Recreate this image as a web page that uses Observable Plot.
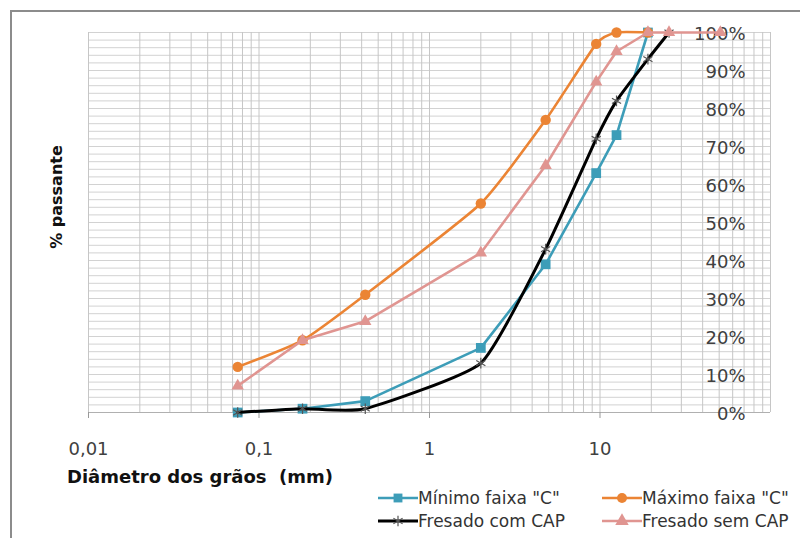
<!DOCTYPE html>
<html><head><meta charset="utf-8">
<script src="https://cdn.jsdelivr.net/npm/d3@7"></script>
<script src="https://cdn.jsdelivr.net/npm/@observablehq/plot@0.6"></script>
<style>
body{margin:0;background:#fff;}
#wrap{position:relative;width:800px;height:538px;overflow:hidden;font-family:"DejaVu Sans",sans-serif;background:#fff;}
#frame{position:absolute;left:10px;top:10px;width:800px;height:540px;border-top:2px solid #8c8c8c;border-left:2px solid #8c8c8c;box-sizing:border-box;}
#chart{position:absolute;left:0;top:0;}
.ytitle{position:absolute;left:57px;top:197px;transform:translate(-50%,-50%) rotate(-90deg);font-weight:bold;font-size:16px;line-height:1;white-space:nowrap;color:#111;}
.xtitle{position:absolute;left:67px;top:468px;font-weight:bold;font-size:18px;line-height:1;white-space:pre;color:#111;}
.leg{position:absolute;font-size:17px;line-height:1;white-space:nowrap;color:#333;}
.legsw{position:absolute;}
</style>
</head><body>
<div id="wrap">
  <div id="frame"></div>
  <div id="chart"></div>
  <div class="ytitle">% passante</div>
  <div class="xtitle">Diâmetro dos grãos  (mm)</div>
  <div id="legend"></div>
</div>
<script>
// ---- data ----
const sieves = [0.075, 0.18, 0.42, 2.0, 4.8, 9.5, 12.5, 19.1, 25.4, 50.8];
const minimoC = [0, 1, 3, 17, 39, 63, 73, 100];
const maximoC = [12, 19, 31, 55, 77, 97, 100, 100];
const comCAP  = [0, 1, 1, 13, 43, 72, 82, 93, 100];
const semCAP  = [7, 19, 24, 42, 65, 87, 95, 100, 100, 100];
const seriesNames = ['Mínimo faixa "C"', 'Máximo faixa "C"', 'Fresado com CAP', 'Fresado sem CAP'];
const seriesColors = ["#3d9db8", "#eb8434", "#000000", "#e09591"];
const xTicks = [0.01, 0.1, 1, 10];
const xTickLabels = ["0,01", "0,1", "1", "10"];
const yTicks = [0, 10, 20, 30, 40, 50, 60, 70, 80, 90, 100];
const yTickLabels = ["0%", "10%", "20%", "30%", "40%", "50%", "60%", "70%", "80%", "90%", "100%"];

const toRows = vals => vals.map((v, i) => ({d: sieves[i], p: v}));
const minRows = toRows(minimoC), maxRows = toRows(maximoC), comRows = toRows(comCAP), semRows = toRows(semCAP);

const xGrid = xTicks.flatMap(t => d3.range(1, 10).map(k => k * t)).concat([100]);
const yGrid = d3.range(0, 101, 2);
const xLabelOf = d => xTickLabels[xTicks.indexOf(d)] ?? "";

const chart = Plot.plot({
  width: 800, height: 538,
  marginLeft: 88, marginRight: 30, marginTop: 32, marginBottom: 126,
  style: {fontFamily: "DejaVu Sans, sans-serif", background: "transparent", overflow: "visible"},
  x: {type: "log", domain: [0.01, 100]},
  y: {domain: [0, 100]},
  marks: [
    Plot.ruleY(yGrid, {stroke: "#d2d2d2", strokeWidth: 1}),
    Plot.ruleX(xGrid, {stroke: "#c6c6c6", strokeWidth: 1}),
    Plot.ruleY([0], {stroke: "#b0b0b0", strokeWidth: 1}),
    Plot.axisX(xTicks, {tickSize: 6, tickPadding: 24, stroke: "#999", fontSize: 18, fill: "#404040",
      tickFormat: xLabelOf, label: null}),
    Plot.axisY(yTicks, {anchor: "right", tickSize: 0, textAnchor: "end", dx: -34, dy: 2, fontSize: 18, fill: "#404040",
      tickFormat: d => yTickLabels[yTicks.indexOf(d)], label: null}),
    // Mínimo
    Plot.line(minRows, {x: "d", y: "p", stroke: seriesColors[0], strokeWidth: 2.6}),
    Plot.dot(minRows, {x: "d", y: "p", symbol: "square", fill: seriesColors[0], r: 5.5}),
    // Máximo
    Plot.line(maxRows, {x: "d", y: "p", stroke: seriesColors[1], strokeWidth: 2.6, curve: "cardinal", tension: 0.5}),
    Plot.dot(maxRows, {x: "d", y: "p", symbol: "circle", fill: seriesColors[1], r: 5.2}),
    // Fresado com CAP
    Plot.line(comRows, {x: "d", y: "p", stroke: seriesColors[2], strokeWidth: 3, curve: "cardinal", tension: 0.5}),
    Plot.dot(comRows, {x: "d", y: "p", symbol: "asterisk", stroke: "#555", strokeWidth: 1.2, r: 5}),
    // Fresado sem CAP
    Plot.line(semRows, {x: "d", y: "p", stroke: seriesColors[3], strokeWidth: 2.6}),
    Plot.dot(semRows, {x: "d", y: "p", symbol: "triangle", fill: seriesColors[3], r: 4.6})
  ]
});
document.getElementById("chart").appendChild(chart);

// ---- legend ----
const legendPos = [
  {lx: 378, tx: 418, top: 490, sym: "square"},
  {lx: 602, tx: 642, top: 490, sym: "circle"},
  {lx: 378, tx: 418, top: 513, sym: "asterisk"},
  {lx: 602, tx: 642, top: 513, sym: "triangle"}
];
const leg = document.getElementById("legend");
const symbolMap = {square: d3.symbolSquare, circle: d3.symbolCircle, asterisk: d3.symbolAsterisk, triangle: d3.symbolTriangle};
seriesNames.forEach((name, i) => {
  const p = legendPos[i];
  const col = seriesColors[i];
  const sw = document.createElementNS("http://www.w3.org/2000/svg", "svg");
  sw.setAttribute("width", 40); sw.setAttribute("height", 16);
  sw.setAttribute("class", "legsw");
  sw.style.left = p.lx + "px"; sw.style.top = p.top + "px";
  const isStroke = p.sym === "asterisk";
  const size = Math.PI * 25;
  sw.innerHTML = `<line x1="0" x2="40" y1="8" y2="8" stroke="${col}" stroke-width="${i === 2 ? 3 : 2.6}"/>` +
    `<path transform="translate(20,8)" d="${d3.symbol(symbolMap[p.sym], size)()}" ${isStroke ? 'fill="none" stroke="#555" stroke-width="1.2"' : `fill="${col}"`}/>`;
  leg.appendChild(sw);
  const t = document.createElement("div");
  t.className = "leg";
  t.style.left = p.tx + "px"; t.style.top = p.top + "px";
  t.textContent = name;
  leg.appendChild(t);
});
</script>
</body></html>
